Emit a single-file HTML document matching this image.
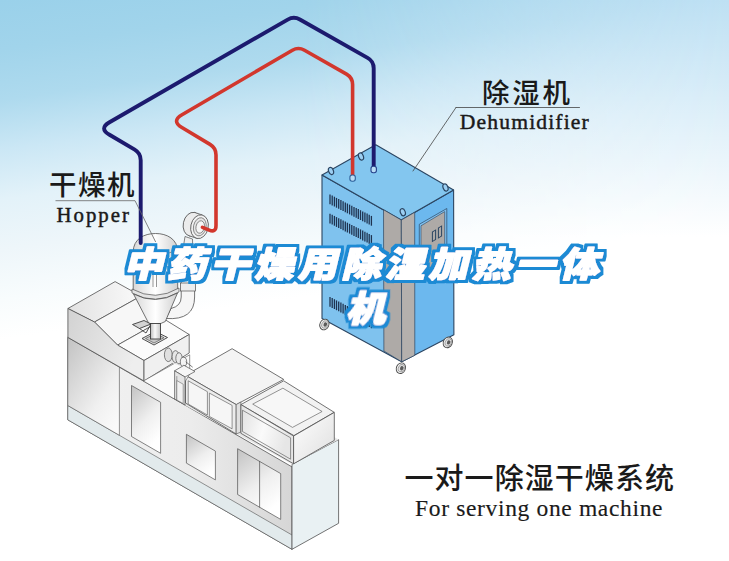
<!DOCTYPE html>
<html lang="zh-CN">
<head>
<meta charset="utf-8">
<title>中药干燥用除湿加热一体机</title>
<style>
html,body{margin:0;padding:0;background:#fff;}
#stage{position:relative;width:729px;height:561px;overflow:hidden;
 background:linear-gradient(172deg, #9ad1ea 0%, #a1d4eb 7.5%, #aedaee 15.1%, #cbe7f5 22.6%, #e3f2f9 30.1%, #eef6fa 37.7%, #f8fcfd 45.2%, #ffffff 51.2%);
}
#stage svg{position:absolute;left:0;top:0;display:block;}
</style>
</head>
<body>
<div id="stage">
<svg width="729" height="561" viewBox="0 0 729 561">
<defs>
<linearGradient id="gDoor" x1="0" y1="0" x2="0.45" y2="1"><stop offset="0" stop-color="#c2c2c2"/><stop offset="0.6" stop-color="#efefef"/><stop offset="1" stop-color="#ffffff"/></linearGradient>
<linearGradient id="gLeft" x1="0" y1="0" x2="0.8" y2="1"><stop offset="0" stop-color="#c2c2c2"/><stop offset="0.7" stop-color="#f0f0f0"/><stop offset="1" stop-color="#fafafa"/></linearGradient>
<linearGradient id="gFront" x1="0" y1="0" x2="1" y2="0"><stop offset="0" stop-color="#f2f2f2"/><stop offset="0.55" stop-color="#ececec"/><stop offset="1" stop-color="#d6d6d6"/></linearGradient>
<linearGradient id="gCone" x1="0" y1="0" x2="1" y2="0"><stop offset="0" stop-color="#d8d8d8"/><stop offset="0.5" stop-color="#ffffff"/><stop offset="1" stop-color="#d0d0d0"/></linearGradient>
<linearGradient id="gNeck" x1="0" y1="0" x2="1" y2="0"><stop offset="0" stop-color="#bdbdbd"/><stop offset="0.45" stop-color="#fafafa"/><stop offset="1" stop-color="#c4c4c4"/></linearGradient>
<linearGradient id="gBlkF" x1="0" y1="0" x2="1" y2="0.3"><stop offset="0" stop-color="#e2e2e2"/><stop offset="0.5" stop-color="#fafafa"/><stop offset="1" stop-color="#e6e6e6"/></linearGradient>
<linearGradient id="gBlkR" x1="0" y1="0" x2="1" y2="1"><stop offset="0" stop-color="#ffffff"/><stop offset="1" stop-color="#dedede"/></linearGradient>
<linearGradient id="gSkyR" x1="0" y1="0" x2="0" y2="1"><stop offset="0" stop-color="#bee0f3"/><stop offset="0.422" stop-color="#ffffff"/></linearGradient>
<linearGradient id="gMaskR" x1="0" y1="0" x2="1" y2="0"><stop offset="0.41" stop-color="#000"/><stop offset="1" stop-color="#fff"/></linearGradient>
<mask id="mR" maskUnits="userSpaceOnUse" x="0" y="0" width="729" height="561"><rect x="0" y="0" width="729" height="561" fill="url(#gMaskR)"/></mask>
<linearGradient id="gTopA" x1="0" y1="0" x2="1" y2="0"><stop offset="0" stop-color="#e2e2e2"/><stop offset="1" stop-color="#fafafa"/></linearGradient>
<linearGradient id="gProf" x1="0" y1="0" x2="1" y2="0.4"><stop offset="0" stop-color="#d2d2d2"/><stop offset="1" stop-color="#eeeeee"/></linearGradient>
</defs>
<rect x="0" y="0" width="729" height="561" fill="url(#gSkyR)" mask="url(#mR)"/>
<polygon points="67.8,337.4 292.0,466.9 292.0,549.3 67.8,419.8" fill="url(#gFront)" stroke="#505050" stroke-width="0.8" stroke-linejoin="round" />
<polygon points="67.8,405.5 292.0,535.0 292.0,549.3 67.8,419.8" fill="#e2eaec" stroke="#505050" stroke-width="0.6" stroke-linejoin="round" />
<polygon points="292.0,464.3 338.6,439.6 338.6,523.3 292.0,549.3" fill="#e9f1f3" stroke="#505050" stroke-width="0.8" stroke-linejoin="round" />
<polygon points="67.8,337.4 119.4,367.2 119.4,435.3 67.8,405.5" fill="url(#gLeft)" stroke="#505050" stroke-width="0.6" stroke-linejoin="round" />
<polygon points="131.5,385.5 160.6,402.3 160.6,453.3 131.5,436.5" fill="url(#gDoor)" stroke="#505050" stroke-width="0.7" stroke-linejoin="round" />
<polygon points="186.4,434.3 215.4,451.1 215.4,479.9 186.4,463.1" fill="url(#gDoor)" stroke="#505050" stroke-width="0.7" stroke-linejoin="round" />
<polygon points="237.6,448.7 280.7,473.6 280.7,519.4 237.6,494.5" fill="url(#gDoor)" stroke="#505050" stroke-width="0.7" stroke-linejoin="round" />
<polyline points="259.6,461.4 259.6,507.2" fill="none" stroke="#505050" stroke-width="0.7" stroke-linejoin="round" stroke-linecap="round" />
<polygon points="185.5,396.0 185.5,405.4 292.0,464.3 338.6,439.6 300.0,418.0" fill="#e6e6e6" stroke="none" stroke-width="0" stroke-linejoin="round" />
<polygon points="67.9,308.5 115.1,281.6 141.0,296.0 94.5,322.0" fill="url(#gTopA)" stroke="#505050" stroke-width="0.8" stroke-linejoin="round" />
<polygon points="94.5,322.0 141.0,296.0 164.0,319.0 117.6,345.1" fill="#f7f7f7" stroke="#505050" stroke-width="0.8" stroke-linejoin="round" />
<polygon points="117.6,345.1 164.0,319.0 189.2,334.5 144.0,360.5" fill="#fbfbfb" stroke="#505050" stroke-width="0.8" stroke-linejoin="round" />
<polygon points="67.9,308.5 94.5,322.0 117.6,345.1 144.0,360.5 144.0,381.0 67.9,337.4" fill="url(#gProf)" stroke="#505050" stroke-width="0.8" stroke-linejoin="round" />
<polygon points="144.0,360.5 189.2,334.5 189.2,353.0 144.0,381.0" fill="#f0f0f0" stroke="#505050" stroke-width="0.8" stroke-linejoin="round" />
<polygon points="185.5,375.3 232.1,348.7 283.7,379.4 236.2,404.6" fill="#f4f4f4" stroke="#505050" stroke-width="0.8" stroke-linejoin="round" />
<polygon points="185.5,375.3 236.2,404.6 236.2,434.0 185.5,403.0" fill="#ececec" stroke="#505050" stroke-width="0.8" stroke-linejoin="round" />
<polygon points="236.2,404.6 240.9,402.0 240.9,432.0 236.2,434.0" fill="#e0e0e0" stroke="#505050" stroke-width="0.6" stroke-linejoin="round" />
<polygon points="188.2,380.8 207.4,391.7 207.4,415.0 188.2,404.0" fill="#f6f6f6" stroke="#505050" stroke-width="0.6" stroke-linejoin="round" />
<polygon points="209.4,393.1 232.1,405.4 232.1,428.8 209.4,416.4" fill="#f6f6f6" stroke="#505050" stroke-width="0.6" stroke-linejoin="round" />
<polygon points="240.9,404.6 283.7,380.8 334.2,412.3 293.9,435.6" fill="#f2f2f2" stroke="#505050" stroke-width="0.8" stroke-linejoin="round" />
<polygon points="252.7,404.1 282.9,388.2 322.1,411.5 292.5,427.4" fill="#f7f7f7" stroke="#505050" stroke-width="0.6" stroke-linejoin="round" />
<polygon points="240.9,404.6 293.6,436.0 293.6,463.8 240.9,433.3" fill="url(#gBlkF)" stroke="#505050" stroke-width="0.8" stroke-linejoin="round" />
<polygon points="242.5,410.2 290.6,437.8 290.6,459.2 242.5,431.5" fill="url(#gBlkF)" stroke="#505050" stroke-width="0.6" stroke-linejoin="round" />
<polygon points="293.6,436.0 334.3,412.4 334.3,440.4 293.6,463.8" fill="url(#gBlkR)" stroke="#505050" stroke-width="0.8" stroke-linejoin="round" />
<polygon points="143.4,381.0 189.7,354.8 189.7,374.0 174.6,399.1" fill="#fbfbfb" stroke="#505050" stroke-width="0.6" stroke-linejoin="round" />
<path d="M181.2,262 L181.2,297 Q181.2,306 171,308.5 L166,318.5 Q194.6,320.5 194.6,297 L194.6,262 Z" fill="#f6f6f6" stroke="#505050" stroke-width="0.8"/>
<rect x="180.5" y="283" width="15" height="8" fill="#eee" stroke="#505050" stroke-width="0.7"/>
<path d="M133.2,291 L133.2,252 C133.2,239 144,233.5 155.5,233.5 C167,233.5 177.7,239 177.7,252 L177.7,291 Q155.5,303 133.2,291 Z" fill="url(#gCone)" stroke="#505050" stroke-width="0.8"/>
<path d="M133.2,250 Q155.5,260 177.7,250" fill="none" stroke="#505050" stroke-width="0.6"/>
<line x1="153" y1="262" x2="153" y2="287" stroke="#505050" stroke-width="0.6"/><line x1="156.5" y1="262" x2="156.5" y2="287" stroke="#505050" stroke-width="0.6"/>
<path d="M132,289 Q155.5,302 179,288 L179,292 Q155.5,306 132,293 Z" fill="#e4e4e4" stroke="#505050" stroke-width="0.7"/>
<path d="M133.5,294 Q155.5,305.5 177.5,293 L165.3,321.5 Q157,326 148.8,323.5 Z" fill="url(#gCone)" stroke="#505050" stroke-width="0.8"/>
<polygon points="132.5,324.5 144.0,320.5 151.0,324.0 139.5,328.5" fill="#d4d4d4" stroke="#3c3c3c" stroke-width="0.9" stroke-linejoin="round" />
<polyline points="139.5,328.5 146.0,333.0 151.0,324.0" fill="none" stroke="#3c3c3c" stroke-width="0.9" stroke-linejoin="round" stroke-linecap="round" />
<polygon points="142.0,338.5 155.5,331.5 167.5,337.5 154.0,345.0" fill="#e4e4e4" stroke="#3c3c3c" stroke-width="0.9" stroke-linejoin="round" />
<polygon points="145.5,338.5 155.5,333.5 164.0,337.7 154.0,343.0" fill="#c8c8c8" stroke="#444" stroke-width="0.6" stroke-linejoin="round" />
<rect x="150.5" y="323.5" width="10" height="15.5" fill="url(#gNeck)" stroke="#3c3c3c" stroke-width="0.9"/>
<path d="M185,236.5 L181,262 L193,262 L192.5,239 Z" fill="#efefef" stroke="#505050" stroke-width="0.7"/>
<ellipse cx="192" cy="224.2" rx="8.7" ry="12" transform="rotate(12 192 224.2)" fill="#ececec" stroke="#505050" stroke-width="0.8"/>
<path d="M194.5,212.4 L202,214.9 L197,238.4 L189.5,235.9 Z" fill="#ececec" stroke="none"/>
<polyline points="194.5,212.4 202.0,214.9" fill="none" stroke="#505050" stroke-width="0.8" stroke-linejoin="round" stroke-linecap="round" />
<polyline points="189.5,235.9 197.0,238.4" fill="none" stroke="#505050" stroke-width="0.8" stroke-linejoin="round" stroke-linecap="round" />
<ellipse cx="199.5" cy="226.7" rx="8.7" ry="12" transform="rotate(12 199.5 226.7)" fill="#f3f3f3" stroke="#505050" stroke-width="0.8"/>
<ellipse cx="199.8" cy="226.8" rx="6.3" ry="9.2" transform="rotate(12 199.8 226.8)" fill="#e6e6e6" stroke="#505050" stroke-width="0.6"/>
<ellipse cx="200.2" cy="227" rx="4.2" ry="6.3" transform="rotate(12 200.2 227)" fill="#f6f6f6" stroke="#505050" stroke-width="0.6"/>
<path d="M168.3,348.5 L183,357.5 L183,367 L168.3,361.5 Z" fill="#e6e6e6" stroke="none"/>
<ellipse cx="168.3" cy="354.8" rx="3.9" ry="6.8" fill="#e0e0e0" stroke="#505050" stroke-width="0.7"/>
<ellipse cx="175.5" cy="356.6" rx="3.4" ry="6" fill="#e6e6e6" stroke="#505050" stroke-width="0.7"/>
<ellipse cx="179" cy="358.3" rx="3.2" ry="5.6" fill="#e9e9e9" stroke="#505050" stroke-width="0.7"/>
<ellipse cx="183.5" cy="361.9" rx="3.2" ry="4.6" fill="#f4f4f4" stroke="#505050" stroke-width="0.7"/>
<polyline points="186.0,362.0 192.4,367.0" fill="none" stroke="#505050" stroke-width="0.7" stroke-linejoin="round" stroke-linecap="round" />
<polyline points="184.0,365.5 190.0,370.0" fill="none" stroke="#505050" stroke-width="0.7" stroke-linejoin="round" stroke-linecap="round" />
<polygon points="174.6,370.8 184.0,365.3 195.0,371.5 185.0,377.0" fill="#f6f6f6" stroke="#505050" stroke-width="0.7" stroke-linejoin="round" />
<polygon points="174.6,370.8 185.0,377.0 185.0,405.0 174.6,399.1" fill="#e4e4e4" stroke="#505050" stroke-width="0.7" stroke-linejoin="round" />
<polyline points="176.8,376.5 176.8,400.0" fill="none" stroke="#505050" stroke-width="0.5" stroke-linejoin="round" stroke-linecap="round" />
<polygon points="176.8,380.6 183.2,384.2 183.2,403.5 176.8,400.0" fill="#f1f1f1" stroke="#505050" stroke-width="0.5" stroke-linejoin="round" />
<polygon points="322.0,175.0 401.3,220.0 401.7,361.8 322.0,318.4" fill="#7fc2ee" stroke="#2b4562" stroke-width="1.1" stroke-linejoin="round" />
<polygon points="401.3,220.0 453.6,190.0 453.9,334.8 401.7,361.8" fill="#6cb8ee" stroke="#2b4562" stroke-width="1.1" stroke-linejoin="round" />
<polygon points="322.0,175.0 375.8,144.8 453.6,190.0 401.3,220.0" fill="#83c6ef" stroke="#2b4562" stroke-width="1.1" stroke-linejoin="round" />
<polygon points="383.5,209.7 401.3,220.0 401.7,361.8 383.9,351.0" fill="#aeaaa7" stroke="#2b4562" stroke-width="0.7" stroke-linejoin="round" />
<polygon points="401.3,220.0 414.7,212.3 414.8,355.3 401.7,361.8" fill="#b4b0ad" stroke="#2b4562" stroke-width="0.7" stroke-linejoin="round" />
<polygon points="419.3,224.3 446.8,208.5 446.8,262.0 419.3,278.0" fill="#7fc0ee" stroke="#2b4562" stroke-width="0.7" stroke-linejoin="round" />
<polygon points="421.0,225.8 444.7,211.6 444.7,259.0 421.0,273.0" fill="#aeaaa7" stroke="#2b4562" stroke-width="0.6" stroke-linejoin="round" />
<rect x="432.4" y="231" width="3.2" height="9.5" fill="none" stroke="#2b4562" stroke-width="1" transform="skewY(-30)" transform-origin="434 236"/>
<rect x="438.4" y="227" width="3.2" height="10" fill="none" stroke="#2b4562" stroke-width="1" transform="skewY(-30)" transform-origin="440 232"/>
<g stroke="#1f3350" stroke-width="1.3"><line x1="330.0" y1="194.5" x2="330.0" y2="204.3"/><line x1="332.2" y1="195.6" x2="332.2" y2="205.4"/><line x1="334.4" y1="196.7" x2="334.4" y2="206.5"/><line x1="336.5" y1="197.9" x2="336.5" y2="207.7"/><line x1="338.7" y1="199.0" x2="338.7" y2="208.8"/><line x1="340.9" y1="200.1" x2="340.9" y2="209.9"/><line x1="343.1" y1="201.2" x2="343.1" y2="211.0"/><line x1="345.3" y1="202.4" x2="345.3" y2="212.2"/><line x1="347.4" y1="203.5" x2="347.4" y2="213.3"/><line x1="349.6" y1="204.6" x2="349.6" y2="214.4"/><line x1="351.8" y1="205.7" x2="351.8" y2="215.5"/><line x1="354.0" y1="206.9" x2="354.0" y2="216.7"/><line x1="356.2" y1="208.0" x2="356.2" y2="217.8"/><line x1="358.3" y1="209.1" x2="358.3" y2="218.9"/><line x1="360.5" y1="210.2" x2="360.5" y2="220.0"/><line x1="362.7" y1="211.4" x2="362.7" y2="221.2"/><line x1="364.9" y1="212.5" x2="364.9" y2="222.3"/><line x1="367.1" y1="213.6" x2="367.1" y2="223.4"/><line x1="369.2" y1="214.7" x2="369.2" y2="224.5"/><line x1="371.4" y1="215.9" x2="371.4" y2="225.7"/></g>
<g stroke="#1f3350" stroke-width="1.3"><line x1="330.0" y1="213.7" x2="330.0" y2="223.5"/><line x1="332.2" y1="214.8" x2="332.2" y2="224.6"/><line x1="334.4" y1="215.9" x2="334.4" y2="225.7"/><line x1="336.5" y1="217.1" x2="336.5" y2="226.9"/><line x1="338.7" y1="218.2" x2="338.7" y2="228.0"/><line x1="340.9" y1="219.3" x2="340.9" y2="229.1"/><line x1="343.1" y1="220.4" x2="343.1" y2="230.2"/><line x1="345.3" y1="221.6" x2="345.3" y2="231.4"/><line x1="347.4" y1="222.7" x2="347.4" y2="232.5"/><line x1="349.6" y1="223.8" x2="349.6" y2="233.6"/><line x1="351.8" y1="224.9" x2="351.8" y2="234.7"/><line x1="354.0" y1="226.1" x2="354.0" y2="235.9"/><line x1="356.2" y1="227.2" x2="356.2" y2="237.0"/><line x1="358.3" y1="228.3" x2="358.3" y2="238.1"/><line x1="360.5" y1="229.4" x2="360.5" y2="239.2"/><line x1="362.7" y1="230.6" x2="362.7" y2="240.4"/><line x1="364.9" y1="231.7" x2="364.9" y2="241.5"/><line x1="367.1" y1="232.8" x2="367.1" y2="242.6"/><line x1="369.2" y1="233.9" x2="369.2" y2="243.7"/><line x1="371.4" y1="235.1" x2="371.4" y2="244.9"/></g>
<g stroke="#1f3350" stroke-width="1.3"><line x1="330.0" y1="297.0" x2="330.0" y2="306.8"/><line x1="332.2" y1="298.1" x2="332.2" y2="307.9"/><line x1="334.4" y1="299.2" x2="334.4" y2="309.0"/><line x1="336.5" y1="300.4" x2="336.5" y2="310.2"/><line x1="338.7" y1="301.5" x2="338.7" y2="311.3"/><line x1="340.9" y1="302.6" x2="340.9" y2="312.4"/><line x1="343.1" y1="303.7" x2="343.1" y2="313.5"/><line x1="345.3" y1="304.9" x2="345.3" y2="314.7"/><line x1="347.4" y1="306.0" x2="347.4" y2="315.8"/><line x1="349.6" y1="307.1" x2="349.6" y2="316.9"/><line x1="351.8" y1="308.2" x2="351.8" y2="318.0"/><line x1="354.0" y1="309.4" x2="354.0" y2="319.2"/><line x1="356.2" y1="310.5" x2="356.2" y2="320.3"/><line x1="358.3" y1="311.6" x2="358.3" y2="321.4"/><line x1="360.5" y1="312.7" x2="360.5" y2="322.5"/><line x1="362.7" y1="313.9" x2="362.7" y2="323.7"/><line x1="364.9" y1="315.0" x2="364.9" y2="324.8"/><line x1="367.1" y1="316.1" x2="367.1" y2="325.9"/><line x1="369.2" y1="317.2" x2="369.2" y2="327.0"/><line x1="371.4" y1="318.4" x2="371.4" y2="328.2"/></g>
<ellipse cx="331.0" cy="171.0" rx="2.4" ry="3.7" transform="rotate(-20 331.0 171.0)" fill="#9ccff2" stroke="#2b4562" stroke-width="1.2"/>
<ellipse cx="361.0" cy="156.5" rx="2.4" ry="3.7" transform="rotate(-20 361.0 156.5)" fill="#9ccff2" stroke="#2b4562" stroke-width="1.2"/>
<ellipse cx="402.8" cy="212.2" rx="2.4" ry="3.7" transform="rotate(-20 402.8 212.2)" fill="#9ccff2" stroke="#2b4562" stroke-width="1.2"/>
<ellipse cx="445.5" cy="187.5" rx="2.4" ry="3.7" transform="rotate(-20 445.5 187.5)" fill="#9ccff2" stroke="#2b4562" stroke-width="1.2"/>
<ellipse cx="324.4" cy="324.5" rx="4.5" ry="5.5" transform="rotate(25 324.4 324.5)" fill="#f3f3f3" stroke="#4a4a4a" stroke-width="0.9"/><ellipse cx="324.9" cy="324.5" rx="3" ry="3.9" transform="rotate(25 324.9 324.5)" fill="#e2e2e2" stroke="#666" stroke-width="0.5"/><ellipse cx="325.3" cy="324.5" rx="1.7" ry="2.2" transform="rotate(25 325.3 324.5)" fill="#5a5a5a"/>
<ellipse cx="400.9" cy="368.2" rx="4.5" ry="5.5" transform="rotate(25 400.9 368.2)" fill="#f3f3f3" stroke="#4a4a4a" stroke-width="0.9"/><ellipse cx="401.4" cy="368.2" rx="3" ry="3.9" transform="rotate(25 401.4 368.2)" fill="#e2e2e2" stroke="#666" stroke-width="0.5"/><ellipse cx="401.8" cy="368.2" rx="1.7" ry="2.2" transform="rotate(25 401.8 368.2)" fill="#5a5a5a"/>
<ellipse cx="447.8" cy="342.4" rx="4.5" ry="5.5" transform="rotate(25 447.8 342.4)" fill="#f3f3f3" stroke="#4a4a4a" stroke-width="0.9"/><ellipse cx="448.3" cy="342.4" rx="3" ry="3.9" transform="rotate(25 448.3 342.4)" fill="#e2e2e2" stroke="#666" stroke-width="0.5"/><ellipse cx="448.7" cy="342.4" rx="1.7" ry="2.2" transform="rotate(25 448.7 342.4)" fill="#5a5a5a"/>
<path d="M140.7,243.0 L140.7,160.3 Q140.7,153.3 134.7,149.7 L109.5,134.8 Q98.7,128.4 109.5,122.2 L287.7,19.6 Q293.8,16.1 299.9,19.5 L367.6,57.9 Q373.7,61.3 373.7,68.3 L373.7,168.0" fill="none" stroke="#1c1a6e" stroke-width="3.9" stroke-linecap="round"/>
<path d="M202.5,227.3 L209.2,230.1 Q216.0,232.8 216.0,225.5 L216.0,155.0 Q216.0,148.0 210.0,144.4 L181.9,127.5 Q171.2,121.1 182.0,114.8 L292.4,50.2 Q298.4,46.7 304.5,50.2 L346.5,74.1 Q352.6,77.6 352.6,84.6 L352.6,177.0" fill="none" stroke="#d2372d" stroke-width="3.6" stroke-linecap="round"/>
<rect x="349.9" y="175" width="5.4" height="6.2" rx="2.2" fill="#b9dcf5" stroke="#2b5f9a" stroke-width="1.1"/>
<rect x="371" y="166.3" width="5.4" height="6.4" rx="2.2" fill="#b9dcf5" stroke="#25408a" stroke-width="1.1"/>
<polyline points="456.0,107.5 579.5,107.5" fill="none" stroke="#444" stroke-width="0.8" stroke-linejoin="round" stroke-linecap="round" />
<polyline points="456.0,107.5 413.0,171.0" fill="none" stroke="#444" stroke-width="0.8" stroke-linejoin="round" stroke-linecap="round" />
<polyline points="55.9,200.7 135.0,200.7 155.5,241.7" fill="none" stroke="#666" stroke-width="0.8" stroke-linejoin="round" stroke-linecap="round" />
<text x="482" y="103" font-size="27.5" textLength="88" lengthAdjust="spacing" font-family="'Liberation Sans','Noto Sans CJK SC',sans-serif" font-weight="500" fill="#1a1a1a">除湿机</text>
<text x="459.8" y="128.7" font-size="21.6" textLength="129" lengthAdjust="spacing" font-family="'Liberation Serif',serif" fill="#1a1a1a" stroke="#1a1a1a" stroke-width="0.45">Dehumidifier</text>
<text x="49" y="195.3" font-size="27.5" textLength="85.5" lengthAdjust="spacing" font-family="'Liberation Sans','Noto Sans CJK SC',sans-serif" font-weight="500" fill="#1a1a1a">干燥机</text>
<text x="56.6" y="221.7" font-size="20.8" textLength="72.3" lengthAdjust="spacing" font-family="'Liberation Serif',serif" fill="#1a1a1a" stroke="#1a1a1a" stroke-width="0.45">Hopper</text>
<text x="404.5" y="489" font-size="29" textLength="269.5" lengthAdjust="spacing" font-family="'Liberation Sans','Noto Sans CJK SC',sans-serif" font-weight="500" fill="#1a1a1a">一对一除湿干燥系统</text>
<text x="415" y="515.8" font-size="23.5" textLength="247.5" lengthAdjust="spacing" font-family="'Liberation Serif',serif" fill="#1a1a1a" stroke="#1a1a1a" stroke-width="0.15">For serving one machine</text>
<filter id="ol" x="-5%" y="-20%" width="110%" height="140%"><feMorphology in="SourceAlpha" operator="dilate" radius="2.7" result="d"/><feFlood flood-color="#1b8ad4"/><feComposite in2="d" operator="in" result="o"/><feMerge><feMergeNode in="o"/><feMergeNode in="SourceGraphic"/></feMerge></filter>
<g filter="url(#ol)"><g transform="translate(363.2,277.2) skewX(-13.7) scale(1.12,1)"><text x="0" y="0" font-family="'Liberation Sans','Noto Sans CJK SC',sans-serif" font-weight="900" font-size="35" letter-spacing="3.9" fill="#fff" stroke="#fff" stroke-width="1.5" stroke-linejoin="round" text-anchor="middle">中药干燥用除湿加热一体</text></g><g transform="translate(367.8,321.6) skewX(-13.7) scale(1.12,1)"><text x="0" y="0" font-family="'Liberation Sans','Noto Sans CJK SC',sans-serif" font-weight="900" font-size="35" letter-spacing="3.9" fill="#fff" stroke="#fff" stroke-width="1.5" stroke-linejoin="round" text-anchor="middle">机</text></g></g>
</svg>
</div>
</body>
</html>
